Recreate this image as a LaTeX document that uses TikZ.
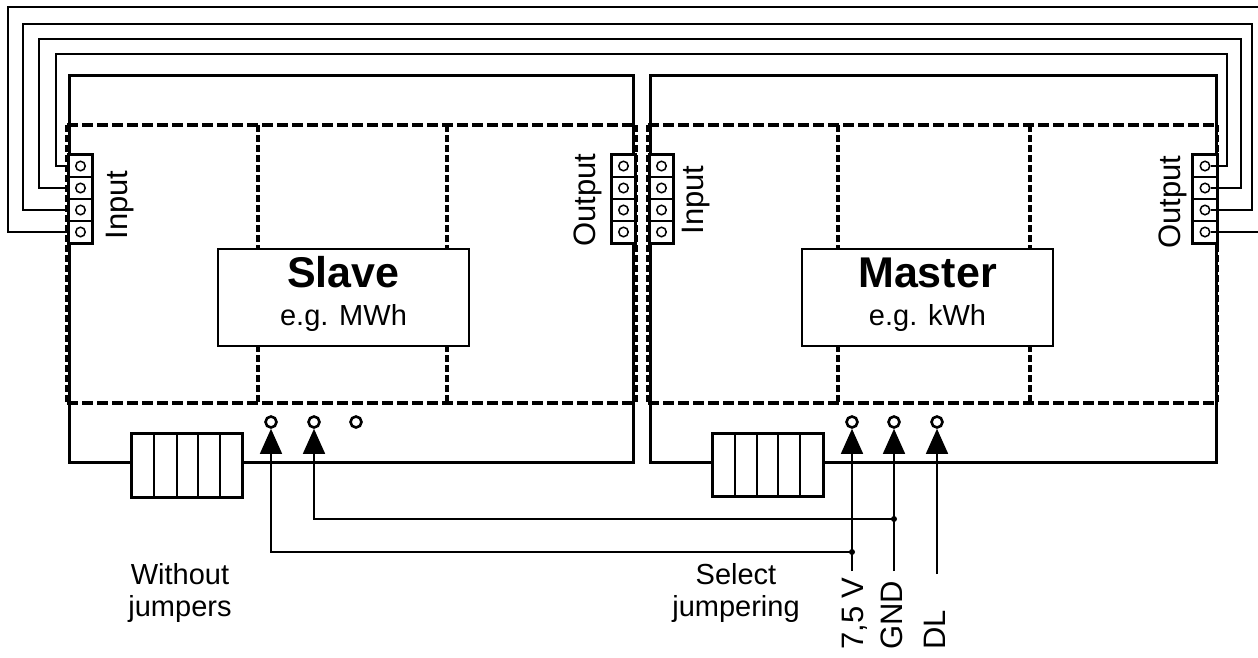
\documentclass[tikz,border=0pt]{standalone}
\usepackage{fontspec}
\setmainfont{Liberation Sans}
\usetikzlibrary{arrows.meta}
\newcommand\lblfont{\fontsize{29}{32}\selectfont}
\newcommand\rotfont{\fontsize{31}{34}\selectfont}
\newcommand\bigfont{\fontsize{43}{46}\selectfont\bfseries}
\begin{document}
\begin{tikzpicture}[x=1pt,y=-1pt,
  outerbox/.style={line width=3pt},
  dashbox/.style={line width=4pt, dash pattern=on 11pt off 4pt},
  vdashbox/.style={line width=4.5pt, dash pattern=on 7pt off 3pt},
  wire/.style={line width=1.5pt},
  namebox/.style={draw, line width=1.6pt, fill=white, minimum width=251pt, minimum height=97pt, inner sep=0pt},
  cell/.style={draw, line width=1.5pt, fill=white, minimum width=23pt, minimum height=22pt, inner sep=0pt},
  tpin/.style={circle, draw, line width=1.5pt, minimum size=9.5pt, inner sep=0pt},
  jpin/.style={circle, draw, line width=2.6pt, minimum size=11pt, inner sep=0pt},
  arr/.style={-{Triangle[width=22pt,length=25pt]}},
  dot/.style={circle, fill=black, minimum size=6pt, inner sep=0pt},
  lbl/.style={font=\lblfont, inner sep=0pt},
  rlbl/.style={font=\rotfont, inner sep=0pt, rotate=90}
]
\useasboundingbox (0,0) rectangle (1258,657);

% outer housings
\draw[outerbox] (69,75) rectangle (633,462);
\draw[outerbox] (650,75) rectangle (1216,462);

% dashed module outlines
\draw[dashbox] (67,125) -- (636,125);
\draw[dashbox] (67,403) -- (636,403);
\draw[vdashbox] (67,125) -- (67,403);
\draw[vdashbox] (636,125) -- (636,403);
\draw[vdashbox] (258,125) -- (258,403);
\draw[vdashbox] (447,125) -- (447,403);
\draw[dashbox] (648,125) -- (1217,125);
\draw[dashbox] (648,403) -- (1217,403);
\draw[vdashbox] (648,125) -- (648,403);
\draw[vdashbox] (1217,125) -- (1217,403);
\draw[vdashbox] (838,125) -- (838,403);
\draw[vdashbox] (1030,125) -- (1030,403);

% name boxes
\node[namebox] (slave) at (343.5,297.5) {};
\node[lbl, font=\bigfont, anchor=base] (slaveT) at (343.5,287) {Slave};
\node[lbl, anchor=base] (slaveS) at (343.5,325) {e.g. MWh};
\node[namebox] (master) at (927.5,297.5) {};
\node[lbl, font=\bigfont, anchor=base] (masterT) at (927.5,287) {Master};
\node[lbl, anchor=base] (masterS) at (927.5,325) {e.g. kWh};

% terminal blocks
\foreach \i/\y in {1/166,2/188,3/210,4/232}{
  \node[cell] (sIn\i) at (80.5,\y) {};
  \node[tpin] (sInP\i) at (80.5,\y) {};
  \node[cell] (sOut\i) at (623.5,\y) {};
  \node[tpin] (sOutP\i) at (623.5,\y) {};
  \node[cell] (mIn\i) at (661.5,\y) {};
  \node[tpin] (mInP\i) at (661.5,\y) {};
  \node[cell] (mOut\i) at (1205,\y) {};
  \node[tpin] (mOutP\i) at (1205,\y) {};
}
\draw[outerbox] (sIn1.north west) rectangle (sIn4.south east);
\draw[outerbox] (sOut1.north west) rectangle (sOut4.south east);
\draw[outerbox] (mIn1.north west) rectangle (mIn4.south east);
\draw[outerbox] (mOut1.north west) rectangle (mOut4.south east);

% labels of terminal blocks
\node[rlbl, anchor=base] (sInL) at (127,205) {Input};
\node[rlbl, anchor=base] (sOutL) at (595,200) {Output};
\node[rlbl, anchor=base] (mInL) at (703,200) {Input};
\node[rlbl, anchor=base] (mOutL) at (1180,202) {Output};

% bus wires
\draw[wire] (mOutP1.east) -- (1227,166) -- (1227,54) -- (56,54) -- (56,166) -- (sIn1.west);
\draw[wire] (mOutP2.east) -- (1241,188) -- (1241,39) -- (39,39) -- (39,188) -- (sIn2.west);
\draw[wire] (mOutP3.east) -- (1252,210) -- (1252,24) -- (23,24) -- (23,210) -- (sIn3.west);
\draw[wire] (mOutP4.east) -- (1266,232) -- (1266,7) -- (8,7) -- (8,232) -- (sIn4.west);

% displays
\node[draw, outerbox, fill=white, minimum width=111pt, minimum height=64pt, inner sep=0pt] (sDisp) at (186.5,465) {};
\foreach \x in {154,177,198,220}{\draw[wire] (\x,433) -- (\x,497);}
\node[draw, outerbox, fill=white, minimum width=111pt, minimum height=63pt, inner sep=0pt] (mDisp) at (767.5,464.5) {};
\foreach \x in {735,757,778,800}{\draw[wire] (\x,433) -- (\x,496);}

% jumper pins
\node[jpin] (sP1) at (271,422) {};
\node[jpin] (sP2) at (314,422) {};
\node[jpin] (sP3) at (356,422) {};
\node[jpin] (mP1) at (852,422) {};
\node[jpin] (mP2) at (894,422) {};
\node[jpin] (mP3) at (937,422) {};

% supply lines
\coordinate (t1) at (852,571);
\coordinate (t2) at (894,571);
\coordinate (t3) at (937,574);
\node[dot] (d1) at (852,552) {};
\node[dot] (d2) at (894,519) {};
\draw[wire, arr] (t1) -- (mP1.south);
\draw[wire, arr] (t2) -- (mP2.south);
\draw[wire, arr] (t3) -- (mP3.south);
\draw[wire, arr] (d1.center) -| (sP1.south);
\draw[wire, arr] (d2.center) -| (sP2.south);

% bottom labels
\node[lbl, anchor=base] (w1) at (180,584) {Without};
\node[lbl, anchor=base] (w2) at (180,616) {jumpers};
\node[lbl, anchor=base] (j1) at (736,584) {Select};
\node[lbl, anchor=base] (j2) at (736,616) {jumpering};
\node[rlbl, anchor=base west] (v1) at (863,650) {7,5 V};
\node[rlbl, anchor=base west] (v2) at (902,650) {GND};
\node[rlbl, anchor=base west] (v3) at (945,650) {DL};
\end{tikzpicture}
\end{document}
